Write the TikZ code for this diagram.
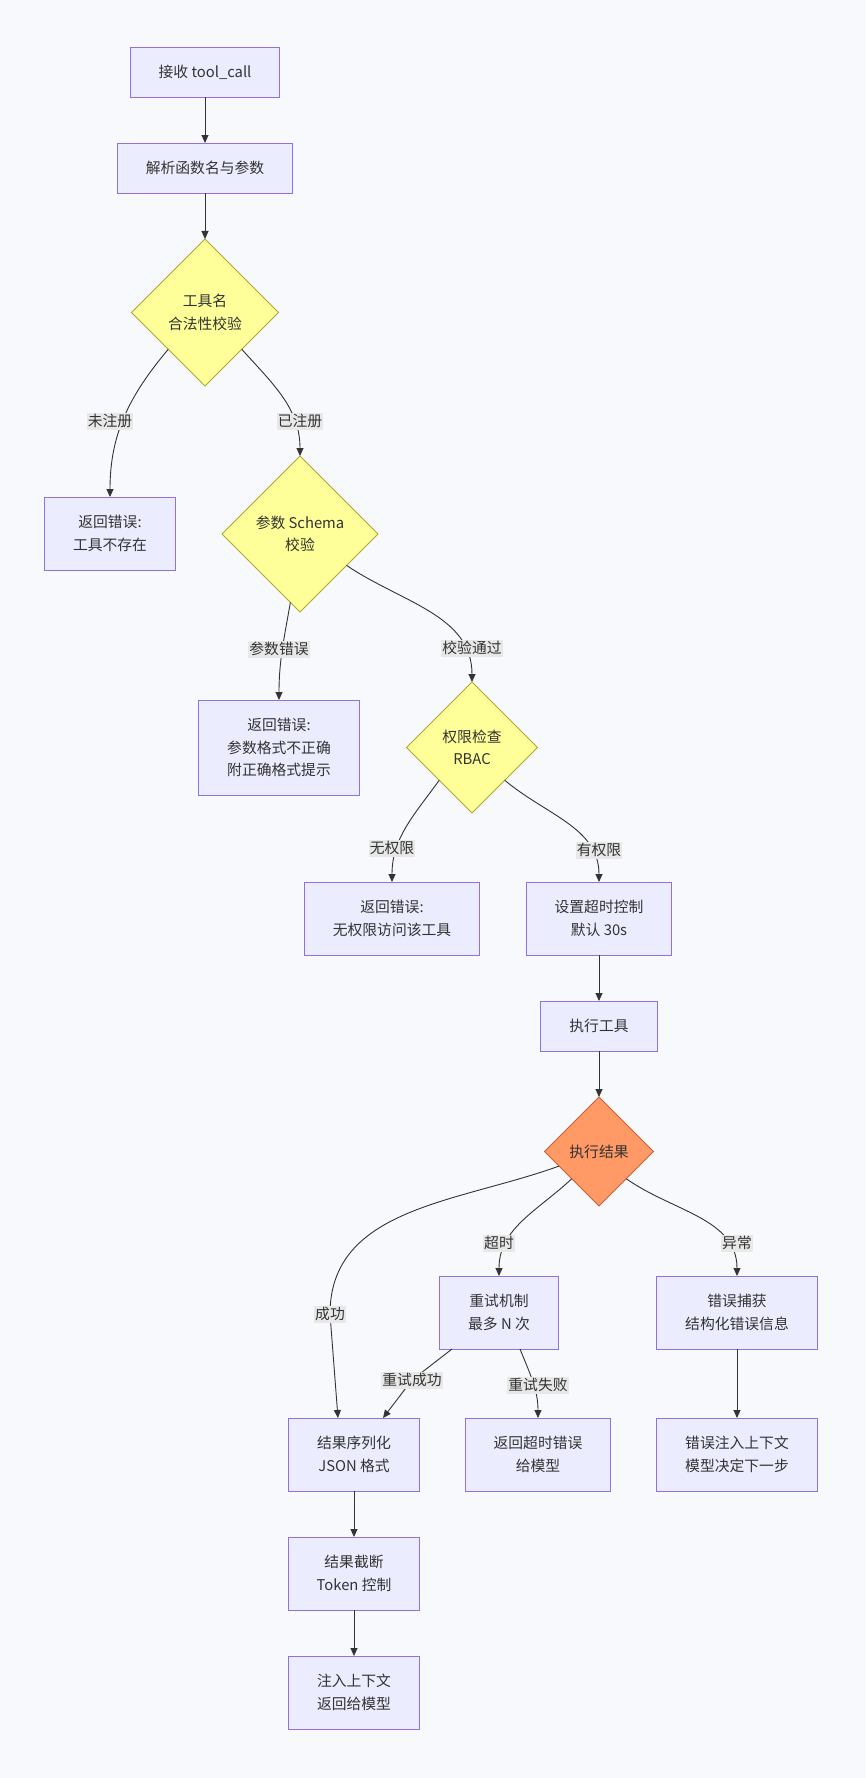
\documentclass[tikz,border=0pt]{standalone}
\usepackage{fontspec}
\setmainfont{Noto Sans CJK SC}
\usetikzlibrary{shapes.geometric, positioning, arrows.meta}
\definecolor{bgc}{HTML}{F8F9FC}
\definecolor{boxfill}{HTML}{ECECFF}
\definecolor{boxline}{HTML}{9370DB}
\definecolor{decfill}{HTML}{FFFF99}
\definecolor{decline}{HTML}{AAAA33}
\definecolor{hotfill}{HTML}{FF9966}
\definecolor{hotline}{HTML}{C0643A}
\definecolor{ink}{HTML}{333333}
\definecolor{lblfill}{HTML}{E8E8E8}
\tikzset{
>={Triangle[length=8pt,width=7pt]}, % arrow heads of all connectors
every node/.style={font=\fontsize{14.8pt}{22.5pt}\selectfont, text=ink, outer sep=0pt},
proc/.style={draw=boxline, fill=boxfill, line width=0.9pt, inner xsep=28.5pt, inner ysep=0pt, minimum height=50pt, align=center}, % plain steps
two/.style={minimum height=73pt}, % two lines of text
three/.style={minimum height=95pt}, % three lines of text
check/.style={diamond, draw=decline, fill=decfill, line width=0.8pt, inner sep=0pt, align=center, minimum size=#1}, % decisions
hot/.style={check=#1, draw=hotline, fill=hotfill}, % the result decision
lbl/.style={fill=lblfill, inner xsep=1pt, inner ysep=1.5pt, text height=12pt, text depth=2pt}, % edge labels
flow/.style={->, draw=ink, line width=0.9pt},
}
\begin{document}
\begin{tikzpicture}[x=1pt, y=-1pt]
\fill[bgc] (0,0) rectangle (865,1778);
\useasboundingbox (0,0) rectangle (865,1778);
% checks before the call
\node[proc] (recv) at (205,72) {接收 tool\_call};
\node[proc, below=46pt of recv] (parse) {解析函数名与参数};
\node[check=147pt, below=46pt of parse] (tname) {工具名\\合法性校验};
\node[proc, two, below=111pt of tname, xshift=-95pt] (err1) {返回错误:\\工具不存在};
\node[check=156pt, below=70pt of tname, xshift=95pt] (schema) {参数 Schema\\校验};
\node[proc, three, below=88pt of schema, xshift=-21pt] (err2) {返回错误:\\参数格式不正确\\附正确格式提示};
\node[check=131pt, below=70pt of schema, xshift=172pt] (rbac) {权限检查\\RBAC};
\node[proc, two, below=69pt of rbac, xshift=-80pt] (err3) {返回错误:\\无权限访问该工具};
\node[proc, two, below=69pt of rbac, xshift=127pt] (tlimit) {设置超时控制\\默认 30s};
% running the tool
\node[proc, below=46pt of tlimit] (exec) {执行工具};
\node[hot=109pt, below=46pt of exec] (result) {执行结果};
\node[proc, two, below=70pt of result, xshift=-100pt] (retry) {重试机制\\最多 N 次};
\node[proc, two, below=70pt of result, xshift=138pt] (catch) {错误捕获\\结构化错误信息};
\node[proc, two, below=69pt of retry, xshift=-145pt] (ser) {结果序列化\\JSON 格式};
\node[proc, two, below=69pt of retry, xshift=39pt] (tout) {返回超时错误\\给模型};
\node[proc, two, below=69pt of catch] (inject) {错误注入上下文\\模型决定下一步};
\node[proc, two, below=46pt of ser] (trunc) {结果截断\\Token 控制};
\node[proc, two, below=46pt of trunc] (ctx) {注入上下文\\返回给模型};
\coordinate (c_ok) at (330,1314);
\coordinate (c_rok) at (412,1380);
% connectors
\draw[flow] (recv) -- (parse);
\draw[flow] (parse) -- (tname);
\draw[flow] (tname.south west) to[out=230,in=90] (err1.north);
\draw[flow] (tname.south east) to[out=-48,in=90] (schema.north);
\draw[flow] (schema.262) to[out=260,in=90] (err2.north);
\draw[flow] (schema.-34) to[out=-34,in=90] (rbac.north);
\draw[flow] (rbac.south west) to[out=234,in=90] (err3.north);
\draw[flow] (rbac.south east) to[out=-40,in=90] (tlimit.north);
\draw[flow] (tlimit) -- (exec);
\draw[flow] (exec) -- (result);
\draw[flow] (result.200) to[out=200,in=90] (c_ok) -- ([xshift=-16pt]ser.north);
\draw[flow] (result.south west) to[out=223,in=90] (retry.north);
\draw[flow] (result.south east) to[out=-35,in=90] (catch.north);
\draw[flow] ([xshift=-47pt]retry.south) -- (c_rok) -- ([xshift=29pt]ser.north);
\draw[flow] ([xshift=21pt]retry.south) to[out=-68,in=90] (tout.north);
\draw[flow] (catch) -- (inject);
\draw[flow] (ser) -- (trunc);
\draw[flow] (trunc) -- (ctx);
% edge labels over the lines
\node[lbl] (l_unreg) at (110,421) {未注册};
\node[lbl] (l_reg) at (300,421) {已注册};
\node[lbl] (l_perr) at (279,649) {参数错误};
\node[lbl] (l_pass) at (472,648) {校验通过};
\node[lbl] (l_noperm) at (392,848) {无权限};
\node[lbl] (l_perm) at (599,850) {有权限};
\node[lbl] (l_to) at (499,1243) {超时};
\node[lbl] (l_exc) at (737,1243) {异常};
\node[lbl] (l_ok) at (c_ok) {成功};
\node[lbl] (l_rok) at (c_rok) {重试成功};
\node[lbl] (l_rfail) at (538,1385) {重试失败};
\end{tikzpicture}
\end{document}
